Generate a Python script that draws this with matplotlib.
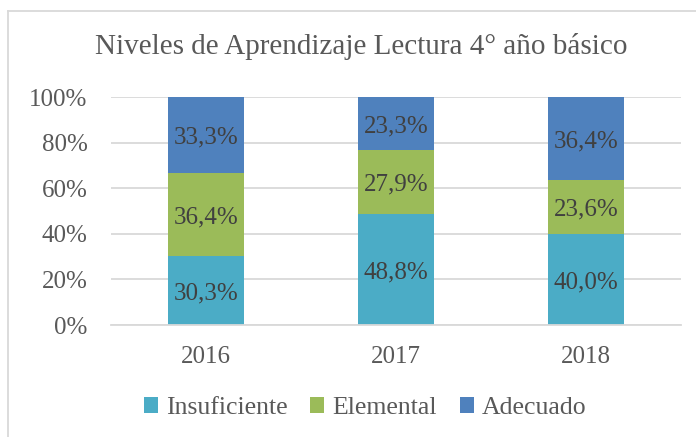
import numpy as np
import matplotlib
matplotlib.use('Agg')
import matplotlib.pyplot as plt
from matplotlib.lines import Line2D

anios = ['2016', '2017', '2018']
niveles = ['Insuficiente', 'Elemental', 'Adecuado']
insuficiente = [30.3, 48.8, 40.0]
elemental = [36.4, 27.9, 23.6]
adecuado = [33.3, 23.3, 36.4]
colores = ['#4BACC6', '#9BBB59', '#4F81BD']

plt.rcParams['font.family'] = ['Liberation Serif', 'DejaVu Serif']

fig = plt.figure(figsize=(6.96, 4.37), dpi=100)
ax = fig.add_axes([111 / 696, 1 - 325 / 437, 570 / 696, 228 / 437])

x = np.arange(len(anios))
series = [insuficiente, elemental, adecuado]
base = np.zeros(len(anios))
for nombre, valores, color in zip(niveles, series, colores):
    valores = np.array(valores)
    ax.bar(x, valores, 0.4, bottom=base, color=color, label=nombre, zorder=2)
    for xi, b, v in zip(x, base, valores):
        ax.annotate(f'{v:.1f}%'.replace('.', ','), (xi, b + v / 2), xytext=(0, -2),
                    textcoords='offset points', ha='center', va='center',
                    fontsize=18, color='#404040', zorder=3)
    base += valores

ax.set_xlim(-0.5, 2.5)
ax.set_ylim(0, 100)
ax.set_yticks(range(0, 101, 20))
ax.set_yticklabels([f'{v}%' for v in range(0, 101, 20)])
ax.set_xticks(x)
ax.set_xticklabels(anios)
ax.tick_params(axis='both', length=0, labelsize=18, colors='#595959')
ax.tick_params(axis='y', pad=17)
ax.tick_params(axis='x', pad=15)
ax.grid(axis='y', color='#D9D9D9', linewidth=1.3, zorder=0)
for s in ['top', 'right', 'left']:
    ax.spines[s].set_visible(False)
ax.spines['bottom'].set_color('#D9D9D9')
ax.spines['bottom'].set_linewidth(1.3)

fig.text(361 / 696, 1 - 47 / 437, 'Niveles de Aprendizaje Lectura 4° año básico',
         ha='center', va='center', fontsize=21, color='#595959')

ax.legend(loc='center', bbox_to_anchor=(365 / 696, 1 - 408 / 437),
          bbox_transform=fig.transFigure, ncol=3, frameon=False, fontsize=18.5,
          handlelength=0.55, handleheight=0.55, handletextpad=0.3, columnspacing=0.9,
          labelcolor='#595959')

# borde del gráfico
fig.add_artist(Line2D([8 / 696, 8 / 696], [0, 1 - 11 / 437], transform=fig.transFigure,
                      color='#D9D9D9', linewidth=1.3))
fig.add_artist(Line2D([8 / 696, 1], [1 - 11 / 437, 1 - 11 / 437], transform=fig.transFigure,
                      color='#D9D9D9', linewidth=1.3))

fig.savefig('out.png', dpi=100)
